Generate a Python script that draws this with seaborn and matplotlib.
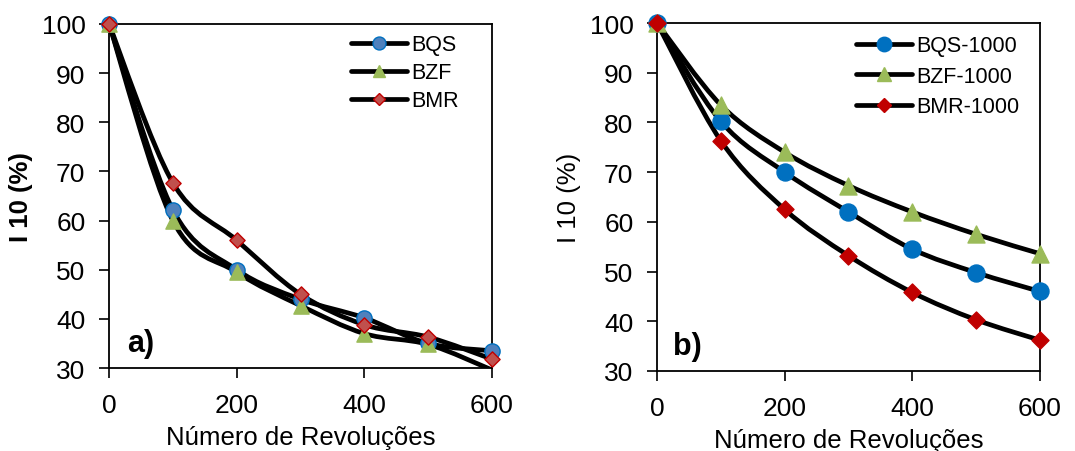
import numpy as np
import pandas as pd
import matplotlib
matplotlib.use("Agg")
import matplotlib.pyplot as plt
import seaborn as sns
from matplotlib.path import Path
from matplotlib.patches import PathPatch
from matplotlib.lines import Line2D

revs = [0, 100, 200, 300, 400, 500, 600]

# painel a)
bqs = [100, 62.2, 50.0, 44.0, 40.2, 35.0, 33.5]
bzf = [100, 60.0, 49.5, 42.7, 37.0, 34.8, 29.6]
bmr = [100, 67.7, 56.0, 45.0, 38.8, 36.3, 31.8]

# painel b)
bqs_1000 = [100, 80.2, 70.0, 62.0, 54.5, 49.8, 46.0]
bzf_1000 = [100, 83.5, 74.0, 67.3, 62.0, 57.5, 53.6]
bmr_1000 = [100, 76.3, 62.5, 53.2, 45.8, 40.3, 36.2]

sns.set_style("white")
plt.rcParams['font.family'] = ['Liberation Sans', 'DejaVu Sans']
plt.rcParams['text.color'] = 'black'
plt.rcParams['axes.labelcolor'] = 'black'
plt.rcParams['xtick.color'] = 'black'
plt.rcParams['ytick.color'] = 'black'


def smooth_path(x, y):
    # curva suavizada tipo Excel (Bezier cubica entre os pontos)
    p = np.column_stack([x, y]).astype(float)
    n = len(p)
    verts = [p[0]]
    codes = [Path.MOVETO]
    for i in range(n - 1):
        p0 = p[i - 1] if i > 0 else p[i]
        p3 = p[i + 2] if i + 2 < n else p[i + 1]
        c1 = p[i] + (p[i + 1] - p0) / 6
        c2 = p[i + 1] - (p3 - p[i]) / 6
        verts += [c1, c2, p[i + 1]]
        codes += [Path.CURVE4] * 3
    return Path(verts, codes)


def panel(ax, series, label, label_x, bold_ylabel, leg_anchor, leg_space):
    for name, vals, marker, face, edge, size in series:
        ax.add_patch(PathPatch(smooth_path(revs, vals), fill=False,
                               edgecolor='black', lw=3.4, zorder=2))
        df = pd.DataFrame({'x': revs, 'y': vals})
        df = df[df['y'] >= 30]
        sns.scatterplot(data=df, x='x', y='y', ax=ax, marker=marker, s=size,
                        color=face, edgecolor=edge, linewidth=1, zorder=3,
                        clip_on=False)
    ax.set_xlim(0, 600)
    ax.set_ylim(30, 100)
    ax.set_xticks([0, 200, 400, 600])
    ax.set_yticks(range(30, 101, 10))
    ax.tick_params(direction='out', length=7, width=1.2, labelsize=19,
                   left=True, bottom=True)
    ax.tick_params(axis='y', pad=10)
    ax.tick_params(axis='x', pad=11)
    for s in ax.spines.values():
        s.set_color('black')
        s.set_linewidth(1.3)
    ax.set_xlabel('Número de Revoluções', fontsize=18.5, labelpad=6)
    ax.set_ylabel('I 10 (%)', fontsize=18.5,
                  fontweight='bold' if bold_ylabel else 'normal', labelpad=6)
    ax.text(label_x, 0.03, label, transform=ax.transAxes, fontsize=22,
            fontweight='bold', va='bottom')
    handles = [Line2D([], [], color='black', lw=3.4, marker=m,
                      markerfacecolor=f, markeredgecolor=e,
                      markersize=np.sqrt(sz) * 0.85)
               for _, _, m, f, e, sz in series]
    ax.legend(handles, [s[0] for s in series], loc='upper right',
              frameon=False, fontsize=15.5, handlelength=2.6,
              handletextpad=0.2, labelspacing=leg_space,
              bbox_to_anchor=leg_anchor, borderaxespad=0)


fig = plt.figure(figsize=(10.75, 4.52), dpi=100)
ax1 = fig.add_axes([0.1014, 0.1836, 0.3563, 0.7611])
ax2 = fig.add_axes([0.6112, 0.1770, 0.3562, 0.7699])

panel(ax1, [
    ('BQS', bqs, 'o', '#4F81BD', '#0070C0', 120),
    ('BZF', bzf, '^', '#9BBB59', '#9BBB59', 120),
    ('BMR', bmr, 'D', '#C0504D', '#C00000', 60),
], 'a)', 0.047, True, (0.935, 0.995), 0.32)

panel(ax2, [
    ('BQS-1000', bqs_1000, 'o', '#0070C0', '#0070C0', 150),
    ('BZF-1000', bzf_1000, '^', '#9BBB59', '#9BBB59', 150),
    ('BMR-1000', bmr_1000, 'D', '#C00000', '#C00000', 75),
], 'b)', 0.042, False, (0.97, 0.99), 0.45)

fig.savefig('out.png', dpi=100)
